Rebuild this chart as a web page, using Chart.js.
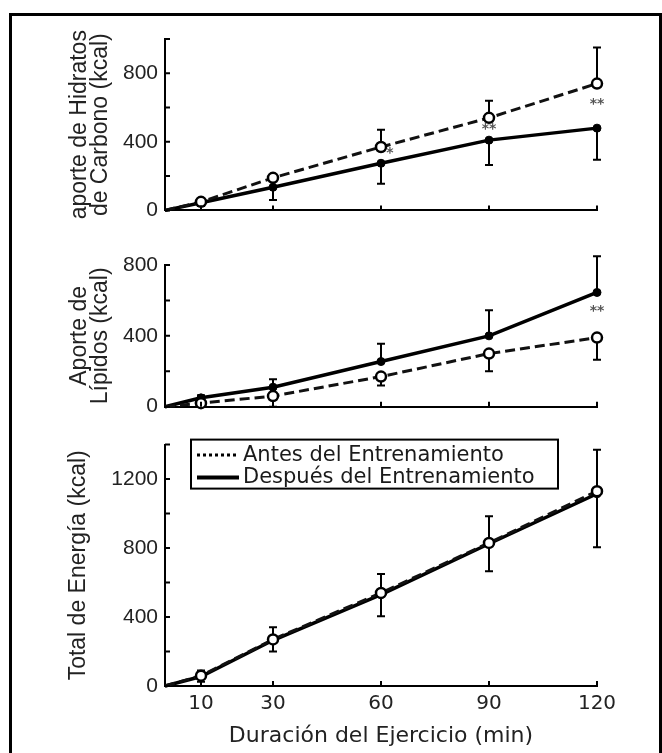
<!DOCTYPE html>
<html><head><meta charset="utf-8">
<script src="https://cdn.jsdelivr.net/npm/chart.js@4/dist/chart.umd.min.js"></script>
<style>
html,body{margin:0;padding:0;background:#fff;width:662px;height:753px;overflow:hidden;}
#frame{position:absolute;left:9px;top:13px;width:653px;height:800px;border:3px solid #000;box-sizing:border-box;}
canvas{position:absolute;left:0;}
</style></head><body>
<div id="frame"></div>
<canvas id="c1" width="662" height="230" style="top:0px"></canvas>
<canvas id="c2" width="662" height="200" style="top:230px"></canvas>
<canvas id="c3" width="662" height="328" style="top:425px"></canvas>
<script>
// ---- data ----
const minutes = [0, 10, 30, 60, 90, 120];
const xTickValues = [10, 30, 60, 90, 120];
const seriesNames = ['Antes del Entrenamiento', 'Después del Entrenamiento'];

const choPre     = [0, 50, 190, 370, 540, 740];
const choPreErr  = [0, 20, 20, 100, 100, 210];
const choPost    = [0, 45, 135, 275, 410, 480];
const choPostErr = [0, 20, 75, 120, 145, 185];

const lipPre     = [0, 20, 60, 170, 300, 390];
const lipPreErr  = [0, 15, 60, 50, 100, 125];
const lipPost    = [0, 50, 110, 255, 400, 645];
const lipPostErr = [0, 15, 45, 100, 145, 205];

const totPre     = [0, 60, 270, 540, 830, 1130];
const totPreErr  = [0, 30, 70, 110, 155, 240];
const totPost    = [0, 55, 265, 530, 825, 1115];
const totPostErr = [0, 30, 65, 125, 160, 310];

const choStars = [{x: 62.5, y: 330, t: '*'}, {x: 90, y: 472, t: '**'}, {x: 120, y: 620, t: '**'}];
const lipStars = [{x: 120, y: 537, t: '**'}];

function pts(arr) { return minutes.map((m, i) => ({x: m, y: arr[i]})); }

function makePanel(id, cfg) {
  const canvas = document.getElementById(id);
  const H = canvas.height;
  const decor = {
    id: 'decor' + id,
    beforeDatasetsDraw(chart) {
      const ctx = chart.ctx, xs = chart.scales.x, ys = chart.scales.y;
      ctx.save();
      ctx.strokeStyle = '#000';
      ctx.lineWidth = 2;
      cfg.errors.forEach(e => {
        e.vals.forEach((v, i) => {
          const err = e.err[i];
          if (!err) return;
          const x = xs.getPixelForValue(minutes[i]);
          const y1 = ys.getPixelForValue(v);
          const y2 = ys.getPixelForValue(v + e.dir * err);
          ctx.beginPath();
          ctx.moveTo(x, y1); ctx.lineTo(x, y2);
          ctx.moveTo(x - 4, y2); ctx.lineTo(x + 4, y2);
          ctx.stroke();
        });
      });
      ctx.restore();
    },
    afterDatasetsDraw(chart) {
      const ctx = chart.ctx, xs = chart.scales.x, ys = chart.scales.y;
      ctx.save();
      ctx.fillStyle = '#555';
      ctx.font = 'bold 14px "DejaVu Sans"';
      ctx.textAlign = 'center';
      ctx.textBaseline = 'middle';
      (cfg.stars || []).forEach(s => {
        ctx.fillText(s.t, xs.getPixelForValue(s.x), ys.getPixelForValue(s.y));
      });
      ctx.restore();
    },
    afterDraw(chart) {
      const ctx = chart.ctx, xs = chart.scales.x, ys = chart.scales.y;
      ctx.save();
      ctx.strokeStyle = '#000';
      ctx.lineWidth = 2;
      ctx.beginPath();
      for (let v = 0; v <= cfg.yMax; v += 200) {
        const y = ys.getPixelForValue(v);
        ctx.moveTo(xs.left, y); ctx.lineTo(xs.left + 5, y);
      }
      xTickValues.forEach(v => {
        const x = xs.getPixelForValue(v);
        ctx.moveTo(x, ys.bottom); ctx.lineTo(x, ys.bottom - 5);
      });
      ctx.stroke();
      if (cfg.legend) {
        const ca = chart.chartArea;
        const bx = ca.left + 26, by = ca.top - 5, bw = 367, bh = 49;
        ctx.fillStyle = '#fff';
        ctx.fillRect(bx, by, bw, bh);
        ctx.lineWidth = 2;
        ctx.strokeRect(bx, by, bw, bh);
        const ds = chart.data.datasets;
        const rows = [by + 15.5, by + 38];
        ctx.lineWidth = 3;
        ctx.setLineDash([3, 3]);
        ctx.beginPath(); ctx.moveTo(bx + 6, rows[0]); ctx.lineTo(bx + 48, rows[0]); ctx.stroke();
        ctx.setLineDash([]);
        ctx.lineWidth = 4;
        ctx.beginPath(); ctx.moveTo(bx + 6, rows[1]); ctx.lineTo(bx + 48, rows[1]); ctx.stroke();
        ctx.fillStyle = '#1a1a1a';
        ctx.font = '21px "DejaVu Sans"';
        ctx.textBaseline = 'middle';
        ctx.textAlign = 'left';
        ctx.fillText(ds[0].label, bx + 52, rows[0]);
        ctx.fillText(ds[1].label, bx + 52, rows[1]);
      }
      ctx.restore();
    }
  };
  return new Chart(canvas, {
    type: 'line',
    data: {datasets: [
      {label: seriesNames[0], data: pts(cfg.pre), borderColor: '#111', borderWidth: 3, borderDash: [10, 5],
       pointRadius: minutes.map(m => m === 0 ? 0 : 5), pointBackgroundColor: '#fff', pointBorderColor: '#000',
       pointBorderWidth: 2.5, clip: false, tension: 0},
      {label: seriesNames[1], data: pts(cfg.post), borderColor: '#000', borderWidth: 3.5,
       pointRadius: minutes.map(m => m === 0 ? 0 : 4), pointBackgroundColor: '#000', pointBorderColor: '#000',
       pointBorderWidth: 1, clip: false, tension: 0}
    ]},
    options: {
      responsive: false, animation: false, devicePixelRatio: 1,
      layout: {padding: {left: 0, right: 65, top: cfg.top, bottom: 0}},
      plugins: {legend: {display: false}, tooltip: {enabled: false}},
      scales: {
        x: {type: 'linear', min: 0, max: 120,
            afterBuildTicks: s => { s.ticks = xTickValues.map(v => ({value: v})); },
            afterFit: s => { s.height = H - cfg.bottom; },
            grid: {display: false, drawTicks: false},
            border: {display: true, color: '#000', width: 2},
            ticks: {display: cfg.xLabels, autoSkip: false, maxRotation: 0, font: {family: 'DejaVu Sans', size: 20}, color: '#222', padding: 6},
            title: {display: cfg.xLabels, text: 'Duración del Ejercicio (min)', font: {family: 'DejaVu Sans', size: 22}, color: '#222', padding: {top: 2, bottom: 4}}},
        y: {type: 'linear', min: 0, max: cfg.yMax,
            afterFit: s => { s.width = 165; },
            grid: {display: false, drawTicks: false},
            border: {display: true, color: '#000', width: 2},
            ticks: {stepSize: 200, autoSkip: false, callback: v => (v % 400 === 0 ? v : ''), font: {family: 'Liberation Sans', size: 21}, color: '#222', padding: 7},
            title: {display: true, text: cfg.yTitle, font: {family: 'Liberation Sans', size: 23, lineHeight: 21 / 23}, color: '#222', padding: {top: cfg.titlePad, bottom: 0}}}
      }
    },
    plugins: [decor]
  });
}

makePanel('c1', {pre: choPre, post: choPost, yMax: 1000, top: 39, bottom: 212.7, xLabels: false,
  yTitle: ['aporte de Hidratos', 'de Carbono (kcal)'], titlePad: 69.5,
  errors: [{vals: choPre, err: choPreErr, dir: 1}, {vals: choPost, err: choPostErr, dir: -1}], stars: choStars});
makePanel('c2', {pre: lipPre, post: lipPost, yMax: 800, top: 35, bottom: 176.7, xLabels: false,
  yTitle: ['Aporte de', 'Lípidos (kcal)'], titlePad: 69.5,
  errors: [{vals: lipPre, err: lipPreErr, dir: -1}, {vals: lipPost, err: lipPostErr, dir: 1}], stars: lipStars});
makePanel('c3', {pre: totPre, post: totPost, yMax: 1400, top: 12.7, bottom: 261, xLabels: true,
  yTitle: 'Total de Energía (kcal)', titlePad: 68.5,
  errors: [{vals: totPre, err: totPreErr, dir: 1}, {vals: totPost, err: totPostErr, dir: -1}], legend: true});
</script>
</body></html>
